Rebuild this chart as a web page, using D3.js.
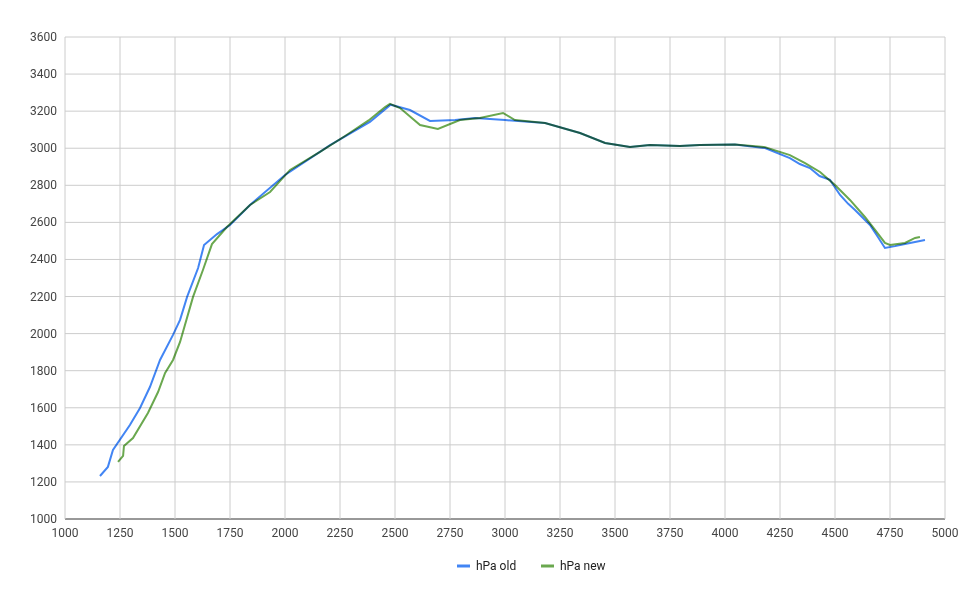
<!DOCTYPE html>
<html><head><meta charset="utf-8">
<script src="https://cdn.jsdelivr.net/npm/d3@7"></script>
<style>body{margin:0;background:#fff;font-family:Roboto,Arial,sans-serif}</style>
</head><body><svg id="c" width="976" height="604"></svg>
<script>
var oldRpm = [1159,1195,1218,1295,1341,1386,1432,1491,1523,1555,1605,1632,1691,1750,1841,2000,2205,2386,2480,2568,2659,2773,2864,3000,3182,3341,3455,3568,3659,3795,3886,4045,4182,4295,4340,4386,4430,4477,4523,4560,4591,4659,4695,4727,4773,4841,4909];
var oldHpa = [1232,1281,1372,1507,1599,1712,1858,1993,2074,2198,2354,2478,2537,2586,2694,2856,3017,3142,3235,3206,3147,3152,3163,3152,3136,3082,3028,3007,3017,3012,3017,3020,3001,2947,2915,2893,2850,2829,2748,2700,2667,2586,2521,2462,2472,2489,2505];
var newRpm = [1241,1264,1268,1309,1377,1423,1455,1491,1523,1582,1627,1668,1736,1841,1932,2023,2159,2273,2380,2455,2477,2523,2614,2695,2795,2886,2991,3045,3182,3341,3455,3568,3659,3795,3886,4045,4182,4295,4364,4432,4500,4568,4636,4682,4727,4750,4818,4864,4886];
var newHpa = [1308,1340,1394,1437,1572,1685,1788,1858,1955,2198,2343,2483,2575,2694,2764,2883,2980,3066,3150,3222,3239,3217,3125,3104,3152,3163,3190,3152,3136,3082,3028,3007,3017,3012,3017,3020,3006,2963,2920,2872,2802,2721,2629,2559,2489,2478,2489,2516,2521];
var xTicks = d3.range(1000, 5001, 250);
var yTicks = d3.range(1000, 3601, 200);

var svg = d3.select("#c");
var x = d3.scaleLinear().domain([1000,5000]).range([65,945]);
var y = d3.scaleLinear().domain([1000,3600]).range([519,37]);

svg.append("g").selectAll("line").data(yTicks).enter().append("line")
  .attr("x1",65).attr("x2",945).attr("y1",d=>y(d)).attr("y2",d=>y(d))
  .attr("stroke",d=>d==1000?"#333":"#ccc").attr("stroke-width",1);
svg.append("g").selectAll("line").data(xTicks).enter().append("line")
  .attr("y1",37).attr("y2",519).attr("x1",d=>x(d)).attr("x2",d=>x(d))
  .attr("stroke","#ccc").attr("stroke-width",1);

svg.append("g").selectAll("text").data(yTicks).enter().append("text")
  .attr("x",57).attr("y",d=>y(d)+4).attr("text-anchor","end")
  .attr("font-size",12).attr("fill","#444").text(d=>d);
svg.append("g").selectAll("text").data(xTicks).enter().append("text")
  .attr("x",d=>x(d)).attr("y",537).attr("text-anchor","middle")
  .attr("font-size",12).attr("fill","#444").text(d=>d);

var line = d3.line().x(d=>x(d[0])).y(d=>y(d[1]));
var series = [
  {name:"hPa old", color:"#4285f4", pts:d3.zip(oldRpm, oldHpa)},
  {name:"hPa new", color:"#6aa84f", pts:d3.zip(newRpm, newHpa)}
];
series.forEach(function(s){
  svg.append("path").attr("d", line(s.pts)).attr("fill","none")
    .attr("stroke", s.color).attr("stroke-width",2)
    .style("mix-blend-mode","multiply");
});

var lg = svg.append("g");
series.forEach(function(s,i){
  var lx = 457 + i*84;
  lg.append("line").attr("x1",lx).attr("x2",lx+13).attr("y1",566).attr("y2",566)
    .attr("stroke",s.color).attr("stroke-width",3);
  lg.append("text").attr("x",lx+19).attr("y",570).attr("font-size",12)
    .attr("fill","#222").text(s.name);
});
</script></body></html>
